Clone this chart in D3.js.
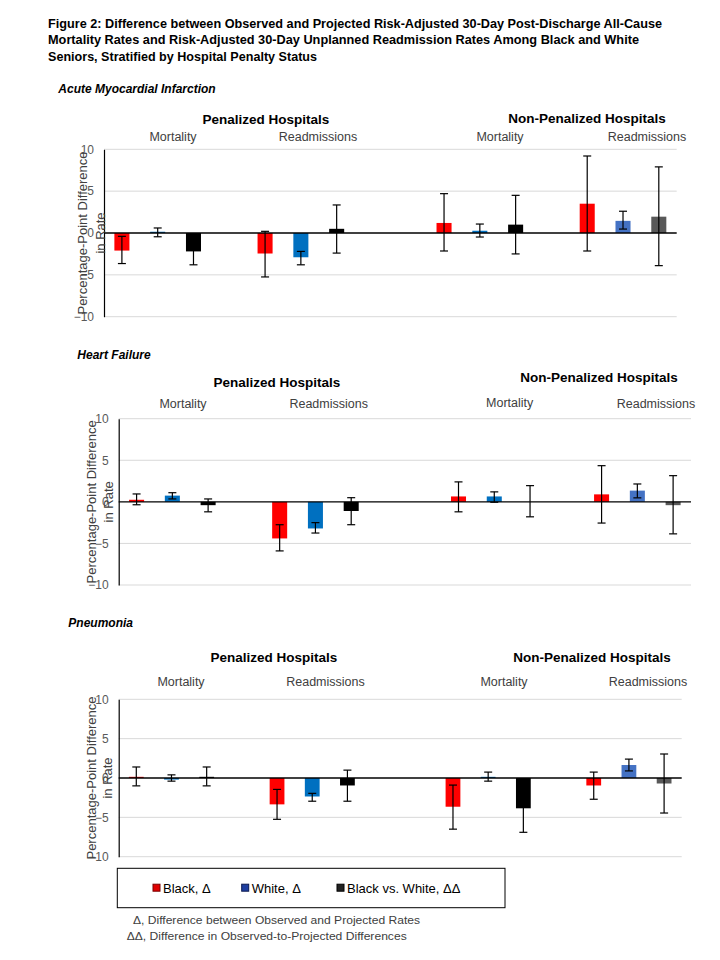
<!DOCTYPE html>
<html>
<head>
<meta charset="utf-8">
<script src="https://cdn.jsdelivr.net/npm/d3@7"></script>
<style>
  html, body { margin: 0; padding: 0; background: #fff; }
  svg { display: block; font-family: "Liberation Sans", Arial, sans-serif; }
</style>
</head>
<body>
<svg id="chart" width="720" height="960"></svg>
<script>
// ---------------- DATA ----------------
const titleLines = [
  "Figure 2: Difference between Observed and Projected Risk-Adjusted 30-Day Post-Discharge All-Cause",
  "Mortality Rates and Risk-Adjusted 30-Day Unplanned Readmission Rates Among Black and White",
  "Seniors, Stratified by Hospital Penalty Status"
];
const conditions = ["Acute Myocardial Infarction", "Heart Failure", "Pneumonia"];
const statusLabels = ["Penalized Hospitals", "Non-Penalized Hospitals"];
const outcomeLabels = ["Mortality", "Readmissions"];
const seriesNames = ["Black, \u0394", "White, \u0394", "Black vs. White, \u0394\u0394"];
const groups = ["Penalized-Mortality", "Penalized-Readmissions", "NonPenalized-Mortality", "NonPenalized-Readmissions"];
const yTicks = [10, 5, 0, -5, -10];
const yTitle = ["Percentage-Point Difference", "in Rate"];
const footnotes = [
  "\u0394, Difference between  Observed and Projected Rates",
  "\u0394\u0394, Difference in Observed-to-Projected Differences"
];

// values[group][series]  (Black, White, Black vs White)
const amiValues = [[-2.1, 0.15, -2.2], [-2.45, -2.9, 0.5], [1.2, 0.27, 1.0], [3.5, 1.45, 1.95]];
const amiLow    = [[-3.65, -0.45, -3.8], [-5.25, -3.8, -2.4], [-2.15, -0.48, -2.5], [-2.15, 0.47, -3.9]];
const amiHigh   = [[-0.4, 0.6, -0.6], [0.2, -2.2, 3.35], [4.7, 1.07, 4.5], [9.2, 2.6, 7.9]];

const hfValues = [[0.25, 0.75, -0.4], [-4.4, -3.2, -1.1], [0.65, 0.65, 0], [0.9, 1.35, -0.4]];
const hfLow    = [[-0.35, 0.35, -1.2], [-5.9, -3.75, -2.75], [-1.2, -0.05, -1.8], [-2.55, 0.48, -3.85]];
const hfHigh   = [[0.95, 1.1, 0.35], [-2.75, -2.5, 0.5], [2.4, 1.2, 1.95], [4.35, 2.15, 3.15]];

const pnValues = [[0.15, -0.2, 0.15], [-3.35, -2.35, -0.95], [-3.65, 0.15, -3.85], [-0.95, 1.65, -0.7]];
const pnLow    = [[-1.0, -0.4, -1.0], [-5.25, -2.95, -2.95], [-6.5, -0.4, -6.9], [-2.7, 0.9, -4.45]];
const pnHigh   = [[1.4, 0.4, 1.4], [-1.45, -1.95, 1.0], [-0.9, 0.75, -1.0], [0.75, 2.4, 3.05]];

const panelValues = [amiValues, hfValues, pnValues];
const panelLow = [amiLow, hfLow, pnLow];
const panelHigh = [amiHigh, hfHigh, pnHigh];

// ---------------- STYLE / LAYOUT ----------------
const seriesColors = ["#FF0000", "#0070C0", "#000000"];
const seriesColorsAlt = ["#FF0000", "#4472C4", "#595959"]; // non-penalized readmissions group
const legendFill = ["#E00000", "#1F3FA0", "#222222"];
const legendStroke = ["#7A0000", "#0A1A50", "#000000"];

const layout = [
  { left: 104, right: 676.7, top: 149.3, bottom: 316.7,
    title: [58.3, 89.3], yt: [82, 100],
    status: [[266, 119.3], [587, 118.3]],
    outcome: [[[173, 136], [318, 136]], [[500, 136], [647, 136]]] },
  { left: 118.7, right: 691, top: 418.7, bottom: 585,
    title: [77.3, 355], yt: [91.5, 108],
    status: [[277, 381.7], [599, 377.3]],
    outcome: [[[183, 403], [328.7, 403]], [[509.7, 402], [656, 403]]] },
  { left: 118.7, right: 681.7, top: 699.3, bottom: 856.7,
    title: [68.3, 623], yt: [91, 107.5],
    status: [[274, 657.3], [592, 657.3]],
    outcome: [[[181, 681], [325.5, 681]], [[504, 681], [648, 681]]] }
];

const svg = d3.select("#chart");

// Title
const titleX = 48, titleY = [27.5, 44, 61], titleW = [614, 591, 269];
svg.append("g").selectAll("text").data(titleLines).join("text")
  .attr("x", titleX).attr("y", (d, i) => titleY[i])
  .attr("font-size", 13).attr("font-weight", "bold").attr("fill", "#000")
  .attr("textLength", (d, i) => titleW[i]).attr("lengthAdjust", "spacingAndGlyphs")
  .text(d => d);

// x category domain: 3 bars per group, spacer slots between groups
const spacers = [1, 2, 1];
const xDomain = [];
groups.forEach((g, gi) => {
  seriesNames.forEach((s, si) => xDomain.push(gi + "-" + si));
  if (gi < spacers.length) for (let k = 0; k < spacers[gi]; k++) xDomain.push("sp" + gi + "-" + k);
});

conditions.forEach((cond, pi) => {
  const L = layout[pi];
  const g = svg.append("g");
  const x = d3.scaleBand().domain(xDomain).range([L.left, L.right]).padding(0);
  const y = d3.scaleLinear().domain([-10, 10]).range([L.bottom, L.top]);
  const bw = x.bandwidth() * 0.42;

  // condition title
  g.append("text").attr("x", L.title[0]).attr("y", L.title[1] + 4)
    .attr("font-size", 12).attr("font-style", "italic").attr("font-weight", "bold")
    .attr("fill", "#000").text(cond);

  // status + outcome labels
  statusLabels.forEach((s, si) => {
    g.append("text").attr("x", L.status[si][0]).attr("y", L.status[si][1] + 5)
      .attr("text-anchor", "middle").attr("font-size", 13.5).attr("font-weight", "bold")
      .attr("fill", "#000").text(s);
    outcomeLabels.forEach((o, oi) => {
      g.append("text").attr("x", L.outcome[si][oi][0]).attr("y", L.outcome[si][oi][1] + 4.5)
        .attr("text-anchor", "middle").attr("font-size", 12.5)
        .attr("fill", "#404040").text(o);
    });
  });

  // gridlines
  g.append("g").selectAll("line").data(yTicks.filter(t => t !== 0)).join("line")
    .attr("x1", L.left).attr("x2", L.right)
    .attr("y1", d => y(d)).attr("y2", d => y(d))
    .attr("stroke", "#D9D9D9").attr("stroke-width", 1);

  // y axis
  const yAxis = d3.axisLeft(y).tickValues(yTicks).tickSize(0).tickPadding(10).tickFormat(d3.format("d"));
  const ag = g.append("g").attr("transform", `translate(${L.left},0)`).call(yAxis);
  ag.select(".domain").attr("stroke", "#000").attr("stroke-width", 1.2);
  ag.selectAll("text").attr("font-size", 12).attr("fill", "#595959")
    .attr("font-family", "'Liberation Sans', Arial, sans-serif");

  // bars
  const flat = [];
  groups.forEach((gr, gi) => seriesNames.forEach((s, si) => {
    flat.push({ key: gi + "-" + si, gi, si,
      v: panelValues[pi][gi][si], lo: panelLow[pi][gi][si], hi: panelHigh[pi][gi][si] });
  }));
  g.append("g").selectAll("rect").data(flat).join("rect")
    .attr("x", d => x(d.key) + (x.bandwidth() - bw) / 2)
    .attr("width", bw)
    .attr("y", d => Math.min(y(d.v), y(0)))
    .attr("height", d => Math.abs(y(d.v) - y(0)))
    .attr("fill", d => (d.gi === 3 ? seriesColorsAlt : seriesColors)[d.si]);

  // zero line
  g.append("line").attr("x1", L.left).attr("x2", L.right)
    .attr("y1", y(0)).attr("y2", y(0)).attr("stroke", "#000").attr("stroke-width", 1.3);

  // error bars
  const eb = g.append("g").attr("stroke", "#000").attr("stroke-width", 1.2);
  flat.forEach(d => {
    const cx = x(d.key) + x.bandwidth() / 2;
    eb.append("line").attr("x1", cx).attr("x2", cx).attr("y1", y(d.lo)).attr("y2", y(d.hi));
    eb.append("line").attr("x1", cx - 4).attr("x2", cx + 4).attr("y1", y(d.lo)).attr("y2", y(d.lo));
    eb.append("line").attr("x1", cx - 4).attr("x2", cx + 4).attr("y1", y(d.hi)).attr("y2", y(d.hi));
  });

  // y axis title (two rotated lines)
  const cy = (L.top + L.bottom) / 2;
  yTitle.forEach((t, ti) => {
    g.append("text")
      .attr("transform", `translate(${L.yt[ti]},${cy}) rotate(-90)`)
      .attr("text-anchor", "middle").attr("dominant-baseline", "central")
      .attr("font-size", 13).attr("fill", "#404040").text(t);
  });
});

// legend
const lg = svg.append("g");
lg.append("rect").attr("x", 117.3).attr("y", 868.3).attr("width", 387.7).attr("height", 39.4)
  .attr("fill", "#fff").attr("stroke", "#000").attr("stroke-width", 1);
const legX = [153, 241.7, 337];
seriesNames.forEach((s, i) => {
  lg.append("rect").attr("x", legX[i]).attr("y", 884.2).attr("width", 7).attr("height", 7)
    .attr("fill", legendFill[i]).attr("stroke", legendStroke[i]).attr("stroke-width", 1);
  lg.append("text").attr("x", legX[i] + 10).attr("y", 892.5)
    .attr("font-size", 13).attr("fill", "#000").text(s);
});

// footnotes
svg.append("g").selectAll("text").data(footnotes).join("text")
  .attr("x", (d, i) => [133, 126.7][i]).attr("y", (d, i) => [924, 940][i])
  .attr("font-size", 11.5).attr("fill", "#404040")
  .attr("textLength", (d, i) => [287, 280][i]).attr("lengthAdjust", "spacingAndGlyphs")
  .text(d => d);
</script>
</body>
</html>
